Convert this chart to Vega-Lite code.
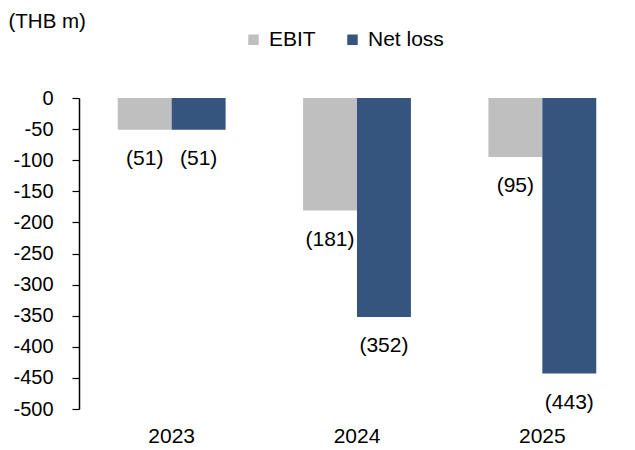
{
  "$schema": "https://vega.github.io/schema/vega-lite/v6.json",
  "autosize": "none",
  "width": 556,
  "height": 311,
  "padding": {"left": 79, "top": 98, "right": 0, "bottom": 41},
  "background": "white",
  "config": {
    "view": {"stroke": null},
    "font": "Liberation Sans",
    "axis": {"labelFont": "Liberation Sans", "titleFont": "Liberation Sans"}
  },
  "data": {
    "values": [
      {"year": "2023", "series": "EBIT", "value": -51, "label": "(51)"},
      {"year": "2023", "series": "Net loss", "value": -51, "label": "(51)"},
      {"year": "2024", "series": "EBIT", "value": -181, "label": "(181)"},
      {"year": "2024", "series": "Net loss", "value": -352, "label": "(352)"},
      {"year": "2025", "series": "EBIT", "value": -95, "label": "(95)"},
      {"year": "2025", "series": "Net loss", "value": -443, "label": "(443)"}
    ]
  },
  "encoding": {
    "x": {
      "field": "year", "type": "nominal",
      "scale": {"paddingInner": 0.418, "paddingOuter": 0.209},
      "axis": {"title": null, "labelAngle": 0, "domain": false, "ticks": false, "labelFontSize": 21, "labelColor": "#000", "labelPadding": 16}
    },
    "xOffset": {"field": "series", "type": "nominal", "scale": {"paddingInner": 0, "paddingOuter": 0}},
    "y": {
      "field": "value", "type": "quantitative",
      "scale": {"domain": [-500, 0], "nice": false},
      "axis": {
        "values": [0, -50, -100, -150, -200, -250, -300, -350, -400, -450, -500],
        "labelExpr": "'' + datum.value", "labelOverlap": false,
        "grid": false, "domainColor": "#000", "domainWidth": 1.5, "tickColor": "#000", "tickSize": 7, "tickWidth": 1.2,
        "labelFontSize": 20, "labelColor": "#000", "labelPadding": 19,
        "title": "(THB m)", "titleAngle": 0, "titleFontSize": 20.5, "titleFontWeight": "normal", "titleColor": "#000",
        "titleAlign": "left", "titleBaseline": "alphabetic", "titleX": -71, "titleY": -71
      }
    }
  },
  "layer": [
    {
      "mark": {"type": "bar"},
      "encoding": {
        "color": {
          "field": "series", "type": "nominal",
          "scale": {"domain": ["EBIT", "Net loss"], "range": ["#BFBFBF", "#35557F"]},
          "legend": {
            "title": null, "orient": "none", "direction": "horizontal", "legendX": 164, "legendY": -69,
            "symbolType": "square", "symbolSize": 110, "symbolStrokeWidth": 0, "labelFontSize": 21, "labelColor": "#000",
            "columnPadding": 26, "labelOffset": 5
          }
        }
      }
    },
    {
      "mark": {"type": "text", "fontSize": 21, "color": "#000", "baseline": "middle", "dy": 29},
      "encoding": {
        "text": {"field": "label"}
      }
    },
    {
      "mark": {"type": "rule", "color": "#000", "strokeWidth": 1.5},
      "encoding": {"y": {"datum": 0}}
    }
  ]
}
